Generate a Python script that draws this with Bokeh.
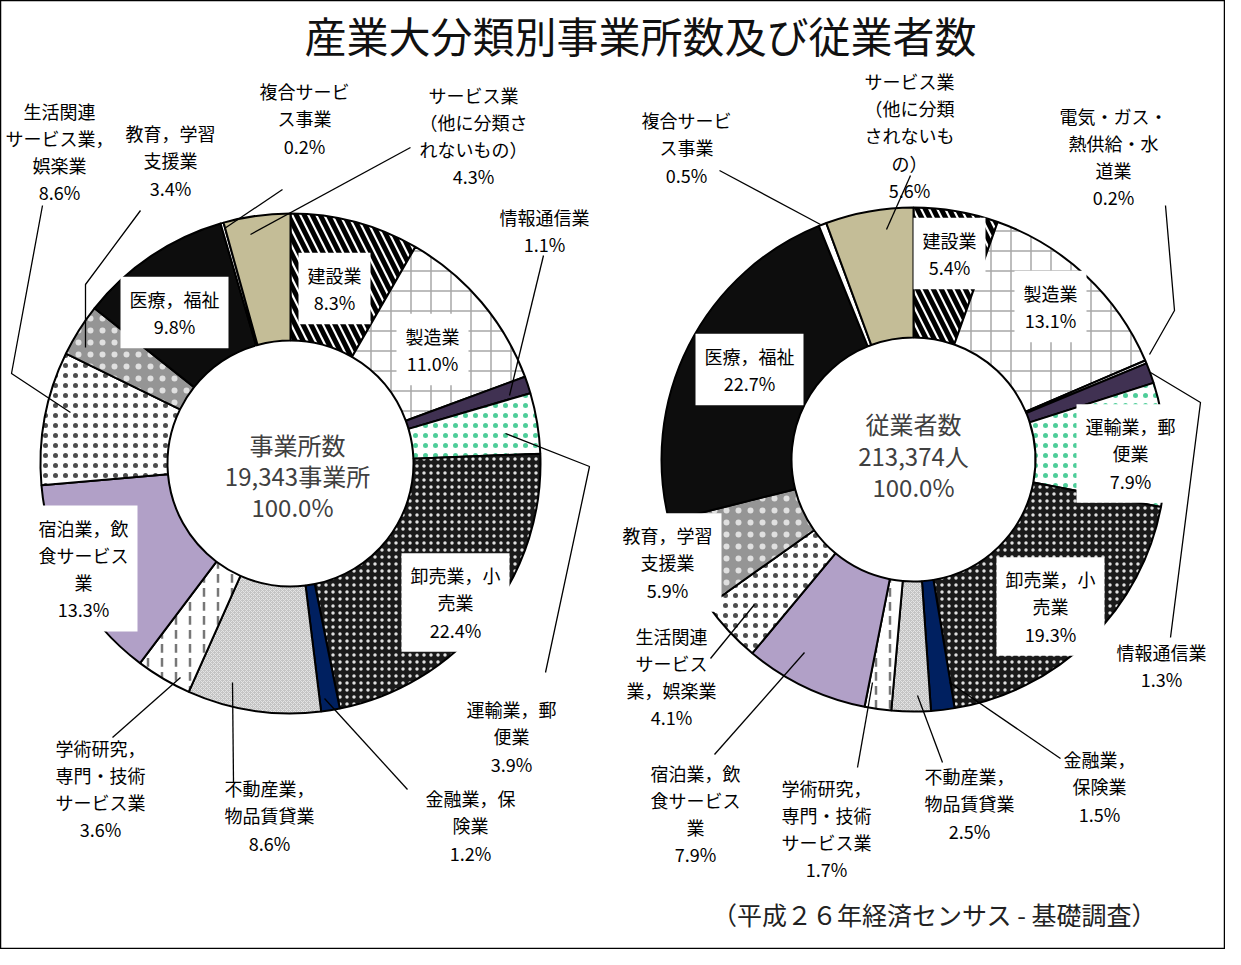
import math
from bokeh.plotting import figure
from bokeh.models import ColumnDataSource, Range1d
from bokeh.core.properties import value
from bokeh.embed import file_html
from bokeh.resources import INLINE

# ---------------- data ----------------
title_text = "産業大分類別事業所数及び従業者数"
caption_text = "（平成２６年経済センサス - 基礎調査）"

left_cats = ["建設業", "製造業", "情報通信業", "運輸業，郵便業", "卸売業，小売業",
             "金融業，保険業", "不動産業，物品賃貸業", "学術研究，専門・技術サービス業",
             "宿泊業，飲食サービス業", "生活関連サービス業，娯楽業", "教育，学習支援業",
             "医療，福祉", "複合サービス事業", "サービス業（他に分類されないもの）"]
left_pct = [8.3, 11.0, 1.1, 3.9, 22.4, 1.2, 8.6, 3.6, 13.3, 8.6, 3.4, 9.8, 0.2, 4.3]
left_text = ["建設業\n8.3%", "製造業\n11.0%", "情報通信業\n1.1%", "運輸業，郵\n便業\n3.9%",
             "卸売業，小\n売業\n22.4%", "金融業，保\n険業\n1.2%", "不動産業，\n物品賃貸業\n8.6%",
             "学術研究，\n専門・技術\nサービス業\n3.6%", "宿泊業，飲\n食サービス\n業\n13.3%",
             "生活関連\nサービス業，\n娯楽業\n8.6%", "教育，学習\n支援業\n3.4%",
             "医療，福祉\n9.8%", "複合サービ\nス事業\n0.2%",
             "サービス業\n（他に分類さ\nれないもの）\n4.3%"]
left_center = ["事業所数", "19,343事業所", "100.0%"]

right_cats = ["建設業", "製造業", "電気・ガス・熱供給・水道業", "情報通信業", "運輸業，郵便業",
              "卸売業，小売業", "金融業，保険業", "不動産業，物品賃貸業",
              "学術研究，専門・技術サービス業", "宿泊業，飲食サービス業",
              "生活関連サービス業，娯楽業", "教育，学習支援業", "医療，福祉",
              "複合サービス事業", "サービス業（他に分類されないもの）"]
right_pct = [5.4, 13.1, 0.2, 1.3, 7.9, 19.3, 1.5, 2.5, 1.7, 7.9, 4.1, 5.9, 22.7, 0.5, 5.6]
right_text = ["建設業\n5.4%", "製造業\n13.1%", "電気・ガス・\n熱供給・水\n道業\n0.2%",
              "情報通信業\n1.3%", "運輸業，郵\n便業\n7.9%", "卸売業，小\n売業\n19.3%",
              "金融業，\n保険業\n1.5%", "不動産業，\n物品賃貸業\n2.5%",
              "学術研究，\n専門・技術\nサービス業\n1.7%", "宿泊業，飲\n食サービス\n業\n7.9%",
              "生活関連\nサービス\n業，娯楽業\n4.1%", "教育，学習\n支援業\n5.9%",
              "医療，福祉\n22.7%", "複合サービ\nス事業\n0.5%",
              "サービス業\n（他に分類\nされないも\nの）\n5.6%"]
right_center = ["従業者数", "213,374人", "100.0%"]

# ---------------- styles (per industry): fill, hatch, hatch colour, scale, weight, alpha
style = {
    "建設業": ("white", "\\", "black", 16, 5, 1.0),
    "製造業": ("white", "+", "#a8a8a8", 20, 1.5, 1.0),
    "電気・ガス・熱供給・水道業": ("white", " ", "black", 10, 1, 1.0),
    "情報通信業": ("#403152", " ", "black", 10, 1, 1.0),
    "運輸業，郵便業": ("white", ".", "#22c080", 10, 1, 0.8),
    "卸売業，小売業": ("#1a1a1a", ".", "#e0e0e0", 7, 1, 1.0),
    "金融業，保険業": ("#002060", " ", "black", 10, 1, 1.0),
    "不動産業，物品賃貸業": ("#c4c4c4", "x", "#e4e4e4", 4, 1, 1.0),
    "学術研究，専門・技術サービス業": ("white", ":", "#777777", 14, 2.5, 1.0),
    "宿泊業，飲食サービス業": ("#b1a0c7", " ", "black", 10, 1, 1.0),
    "生活関連サービス業，娯楽業": ("white", ".", "#4d4d4d", 10, 1, 1.0),
    "教育，学習支援業": ("#959595", ".", "#f2f2f2", 12, 1, 0.8),
    "医療，福祉": ("#0d0d0d", " ", "black", 10, 1, 1.0),
    "複合サービス事業": ("white", " ", "black", 10, 1, 1.0),
    "サービス業（他に分類されないもの）": ("#c4bd97", " ", "black", 10, 1, 1.0),
}

# ---------------- layout (screen px of the page) ----------------
W, H = 1225, 949
def X(x): return x - 8
def Y(y): return H - (y - 8)

L_C, L_RO, L_RI = (298, 471), 250, 123
R_C, R_RO, R_RI = (921, 467), 252, 122

left_pos = [(342, 296), (440, 357), (552, 238), (519, 744), (463, 610), (478, 833),
            (277, 823), (108, 796), (91, 576), (67, 159), (178, 168), (182, 320),
            (312, 126), (481, 143)]
left_box = [True, True, False, False, True, False, False, False, True, False, False,
            True, False, False]
right_pos = [(957, 261), (1058, 314), (1121, 164), (1169, 673), (1138, 461), (1058, 614),
             (1107, 794), (977, 811), (834, 836), (703, 821), (679, 684), (675, 570),
             (757, 377), (694, 155), (917, 143)]
right_box = [True, True, False, False, True, True, False, False, False, False, False,
             True, True, False, False]

leaders = [
    [(551, 263), (517, 403)],
    [(513, 441), (597, 474), (553, 680)],
    [(332, 706), (415, 797)],
    [(240, 690), (241, 790)],
    [(188, 685), (120, 745)],
    [(50, 213), (19, 381), (78, 420)],
    [(148, 218), (93, 292), (93, 355)],
    [(290, 197), (232, 236)],
    [(418, 155), (258, 242)],
    [(1173, 213), (1182, 318), (1157, 362)],
    [(1158, 380), (1208, 410), (1178, 645)],
    [(957, 690), (1068, 766)],
    [(925, 703), (950, 770)],
    [(880, 690), (865, 775)],
    [(812, 660), (722, 762)],
    [(762, 612), (718, 666)],
    [(727, 178), (828, 232)],
    [(918, 183), (894, 237)],
]

FONT = value("Noto Sans CJK JP")

p = figure(width=W, height=H, output_backend="svg", toolbar_location=None,
           x_range=Range1d(0, W), y_range=Range1d(0, H), min_border=0,
           background_fill_color="white", border_fill_color="white")
p.axis.visible = False
p.grid.visible = False
p.outline_line_color = "black"
p.outline_line_width = 1.5


def donut(cats, pct, center, ro, ri):
    total = sum(pct)
    starts, ends = [], []
    cum = 0.0
    for v in pct:
        starts.append(math.pi / 2 - 2 * math.pi * cum / total)
        cum += v
        ends.append(math.pi / 2 - 2 * math.pi * cum / total)
    src = ColumnDataSource(dict(
        x=[X(center[0])] * len(cats), y=[Y(center[1])] * len(cats),
        start=starts, end=ends,
        fill=[style[c][0] for c in cats], hp=[style[c][1] for c in cats],
        hc=[style[c][2] for c in cats], hs=[style[c][3] for c in cats],
        hw=[style[c][4] for c in cats], ha=[style[c][5] for c in cats]))
    p.annular_wedge(x="x", y="y", inner_radius=ri, outer_radius=ro,
                    start_angle="start", end_angle="end", direction="clock",
                    fill_color="fill", hatch_pattern="hp", hatch_color="hc",
                    hatch_scale="hs", hatch_weight="hw", hatch_alpha="ha",
                    line_color="black", line_width=2, source=src)


donut(left_cats, left_pct, L_C, L_RO, L_RI)
donut(right_cats, right_pct, R_C, R_RO, R_RI)

p.multi_line(xs=[[X(a) for a, b in seg] for seg in leaders],
             ys=[[Y(b) for a, b in seg] for seg in leaders],
             line_color="black", line_width=1.3)


def labels(texts, pos, box):
    for boxed in (False, True):
        idx = [i for i in range(len(texts)) if box[i] == boxed]
        if not idx:
            continue
        kw = dict(background_fill_color="white", padding=9) if boxed else {}
        p.text(x=[X(pos[i][0]) for i in idx], y=[Y(pos[i][1]) for i in idx],
               text=[texts[i] for i in idx], text_align="center",
               text_baseline="middle", text_font=FONT, text_font_size="18px",
               text_line_height=1.05, text_color="black", **kw)


labels(left_text, left_pos, left_box)
labels(right_text, right_pos, right_box)

# center texts
p.text(x=[X(305), X(305), X(300)], y=[Y(452), Y(483), Y(514)], text=left_center,
       text_align="center", text_baseline="middle", text_font=FONT,
       text_font_size="24px", text_color="#404040")
p.text(x=[X(921), X(921), X(921)], y=[Y(431), Y(463), Y(494)], text=right_center,
       text_align="center", text_baseline="middle", text_font=FONT,
       text_font_size="24px", text_color="#404040")

p.text(x=[X(648)], y=[Y(42)], text=[title_text], text_align="center",
       text_baseline="middle", text_font=FONT, text_font_size="42px",
       text_color="#111111")
p.text(x=[X(942)], y=[Y(921)], text=[caption_text], text_align="center",
       text_baseline="middle", text_font=FONT, text_font_size="25px",
       text_color="#222222")

open("out.html", "w").write(file_html(p, INLINE))
